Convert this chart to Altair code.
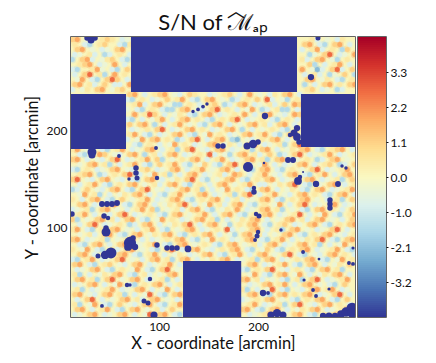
import altair as alt
import pandas as pd

# Estimated S/N of the speckles, per 5 px lattice cell, by unmasked region.
# Local detail is only an approximate reading of the picture.
LEVELS = {"w": -0.4, "b": -0.9, "B": -1.6, "D": -2.3, "p": 0.5, "o": 1.1, "O": 1.8, "R": 2.7}
BASE_V = 0.1

BLOCK_A = ["oO.wb.pop.bw", "p.bB.po..bBp", ".oO.w.bw.oO.", "bw.pb.Bb.p.b", "B.oOb.wpo.bB", ".poO.bw.O.b.", "bB..pOw.bB.o", "b.oR.pB.O.p.", ".wO.bB.oRo.b", "oO.pb.o.bb.O", "b.wp.oO.wpo."]
BLOCK_B = ["..pb.w.bp..", "oO.bB.oO.b.", "b.pOb.p.Bo.", ".Bw.oR.bw.O", "pb.oO.wB.p.", ".oB.b.pO.b.", "O.wDb.oRb.o", "b.pb.Bw.o.B", ".oO.wp.bB.p", "B.b.oO.p.oO", ".po.bw.Bb.."]
BLOCK_C = ["oO.b.poO.wb.op..bw.po.b.O.w.bp.oO.b", "bB.p.bw.o.pO.bB.oO.w.Bb.p.o.Rb.wB.p", ".pOb.oO.wBB.p.b.po.Bb.oO.bw.pb.o.Oo", "w.bB.p.bBB.oO.wb.oR.p.b.wO.Bb.pBB.b", ".O.pRo.b.wp.bB.oO.bw.p.O.b.oO.wb.Oo", "bB.b.wpO.b.oO.p.bB.p.oR.bw.p.bB.p.b", "o.oO.B.b.pO.w.bB.oO.b.w.oO.pb.oO.b.", ".bw.p.oR.bw.oO.p.bw.oO.B.b.w.p.bB.p", "pO.bB.bw.oO.bB.wO.p.bw.oO.pO.bB.oO.", "b.wO.oO.p.Bb.oR.b.oO.BD.wb.p.oO.b.w", ".bB.p.b.wO.p.bw.oO.wp.b.oO.bw.pB.oR"]
BLOCK_D = ["pO.wb.bB.pO.bw.oO.b.pB.oR.wb.oO.bw.pB.oO.b.wp.oO.bB.poO.b",
           ".bB.pOo.wb.oO.B.pb.oO.bw.p.Rb.wB.oO.pb.o.Bb.oR.bw.pO.bw.p",
           "oO.b.wb.oR.bw.pO.oB.w.p.oO.b.pO.bw.oO.pB.oO.bw.p.Bb.oO.w.",
           ".w.oO.pB.b.pO.bB.o.pO.bB.wo.bB.oR.pb.wO.b.bw.oO.b.po.Bb.o",
           "bB.p.bw.oO.wb.po.bw.oO.b.pO.w.oO.b.wB.oO.bB.p.w.oR.bw.pO.",
           ".poO.Bb.p.oR.b.wO.pB.b.oO.bw.pb.Oo.b.pO.wb.oO.bB.pO.b.oO.",
           "oR.wb.oO.wb.bB.oO.b.wp.oR.bB.w.oO.bB.p.oO.bw.p.oO.bw.pB.o",
           ".b.pO.bB.p.oO.w.pb.oO.bB.p.b.oO.w.pO.bb.wp.oR.bB.w.oO.b.p",
           "Bb.o.wb.oO.bB.oR.w.bw.oO.pB.b.wO.p.bB.oO.b.wp.bB.oO.bw.pO",
           ".wO.pB.b.wp.oO.b.bB.pO.w.oO.bw.pB.oR.b.pO.wb.oO.p.bB.oO.b",
           "p.b.oO.bB.o.w.pO.bw.oO.bB.p.oO.b.pb.w.oO.bB.p.oO.w.b.pB.o",
           ".oO.bw.pO.bB.oO.b.wp.oR.b.wO.pb.oO.bB.p.wO.b.oR.bw.pO.bw.",
           "bw.pB.oO.w.b.pO.oB.w.pb.oO.bB.wp.O.bw.oO.pB.w.bB.oO.p.b.o",
           ".pO.b.wb.oR.bw.p.bB.oO.w.pO.b.oO.bB.p.oO.bw.pR.b.wO.bB.pO",
           "oB.w.oO.pb.oO.bB.wO.p.bw.oO.pB.b.wp.oO.b.w.oO.pb.oO.w.b.o",
           ".b.oR.bw.p.Bb.oO.b.wp.oR.b.oO.wB.p.oO.bB.po.bw.oO.bB.p.oO",
           "pO.bB.p.oO.w.b.pO.bB.w.oO.bw.p.Rb.w.oO.b.pB.oO.w.bw.oR.b.",
           ".w.pb.oO.bB.oO.wp.oO.bB.p.oO.b.wB.oO.pb.w.oO.bB.p.oO.wb.p",
           "oO.bw.pB.w.pR.b.bw.p.oO.bB.wO.p.bw.oO.bB.pO.b.wp.oR.bB.oO",
           ".bB.oO.b.oO.bw.pO.bB.oO.w.p.bB.oO.w.pb.oO.bw.oO.pB.b.wO.p",
           "p.wO.bB.pb.oO.w.bB.oR.b.oO.wb.p.oO.bB.wo.bB.p.oO.bw.pO.bB",
           ".oO.b.wp.oO.bB.pO.b.wp.bw.oO.bB.pO.b.oO.w.oR.bB.wb.oO.p.b",
           "bB.pO.bw.oR.w.b.oO.pB.oO.b.wp.oO.bw.pB.oO.bw.p.oO.bB.wO.p"]
BLOCK_E = ["oO.bB.po.wb.oO.bw.pO.b", ".bw.oO.bB.p.wO.bB.oR.w", "pB.b.wp.oO.bB.pb.w.oO.", ".oO.pB.oR.w.oO.bw.pB.b", "bw.oO.b.wO.bB.p.oO.b.p", ".pB.bw.pO.bw.oO.b.wO.b", "oO.wb.oO.pB.b.wR.bB.oO", ".b.oR.b.w.oO.pb.oO.w.b", "pB.wO.bB.o.wb.oO.bB.pO", ".oO.b.pO.bB.oO.w.pb.o.", "bw.oO.bw.oO.b.wR.oO.bB"]
BLOCK_F = [".oO.bw.pO.bB.oO.b.wp.o", "bB.p.oR.wb.p.bB.oO.pB.", ".wO.bB.oO.wO.b.wp.oO.b", "oO.pb.w.bB.pB.oR.bw.pO", ".bw.oO.pO.b.oO.w.bB.o.", "pB.b.wR.bB.wb.oO.pO.bw", ".oO.bB.oO.p.oO.bw.oR.b", "bw.p.oO.w.bB.p.oO.bB.o", ".pO.bw.pB.oR.wb.oO.p.b", "oO.bB.oO.b.wp.oO.bw.pO", ".bw.pO.bw.oO.bB.p.oO.b"]
BLOCKS = [(BLOCK_A, 0, 0), (BLOCK_B, 0, 46), (BLOCK_C, 11, 11), (BLOCK_D, 22, 0), (BLOCK_E, 45, 0), (BLOCK_F, 45, 34)]

# Masked rectangles, data coordinates
MASK_X = [71.6, 11, 243.4, 124.2]
MASK_X2 = [239.4, 66.6, 298, 183]
MASK_Y = [295, 236.8, 236.8, 66.2]
MASK_Y2 = [238.8, 180.6, 182.6, 9]

# Small masked holes: x, y, marker area
HOLE_X = [134.3, 139.4, 144.4, 148.4, 159.6, 164.6, 188.9, 195, 200, 189.9, 253.5, 207, 42.3, 47.4, 52.4, 57.5, 76.7, 76.7, 77.7, 44.4, 48.4, 12, 59.5, 69.6, 97.9, 96.9, 108, 113.1, 118.1, 129.2, 195.9, 195.9, 198, 201, 199, 200, 197, 230.3, 235.4, 240.4, 242.4, 245.5, 258.6, 280.8, 272.7, 272.7, 272.7, 284.9, 288.9, 206, 46.4, 46.4, 70.6, 73.7, 68.6, 75.7, 51.4, 45.4, 38.3, 97.9, 67.6, 70.6, 84.8, 88.8, 42.3, 90.8, 94.9, 245.5, 223.2, 205, 210.1, 246.5, 255.6, 258.6, 271.7, 261.6, 291.9, 296, 296, 213.1, 219.2, 225.2, 265.7, 271.7, 277.8, 283.9, 288.9, 295, 295, 27.2, 31.2, 35.3, 260.6, 32.2, 32.2, 239.4, 236.4, 232.3, 239.4, 241.4]
HOLE_Y = [219, 221, 224, 226.6, 183.7, 183.7, 183.7, 185.7, 187.8, 162.2, 254.1, 214.3, 124.4, 124.4, 124.4, 125.4, 161.2, 156.1, 151, 112.2, 110.1, 114.2, 173.5, 150, 151, 181.6, 79.5, 79.5, 79.5, 78.5, 136.7, 140.8, 114.2, 112.2, 91.7, 95.8, 87.7, 169.4, 169.4, 148, 152, 157.1, 144.9, 144.9, 128.5, 124.4, 120.3, 163.2, 161.2, 166.3, 95.8, 99.9, 84.6, 89.7, 80.5, 80.5, 74.4, 72.4, 71.4, 82.6, 41.7, 41.7, 25.4, 23.3, 20.3, 47.8, 11, 75.4, 97.9, 33.5, 33.5, 46.8, 36.6, 30.5, 37.6, 68.2, 64.2, 63.2, 79.5, 11, 13, 11, 10, 10, 10, 12, 14, 18, 13, 294, 292, 294, 294, 177.5, 174.5, 202, 196.9, 194.9, 192.9, 187.8]
HOLE_S = [12, 14, 14, 12, 30, 30, 50, 70, 30, 100, 40, 40, 35, 35, 35, 35, 30, 30, 25, 30, 20, 30, 15, 12, 20, 15, 30, 30, 30, 45, 30, 20, 20, 25, 25, 20, 15, 35, 35, 60, 20, 4, 40, 35, 30, 30, 30, 12, 12, 6, 80, 30, 150, 30, 60, 40, 120, 70, 25, 30, 20, 12, 25, 25, 15, 20, 50, 15, 12, 40, 15, 10, 15, 15, 10, 8, 15, 15, 10, 50, 70, 50, 40, 50, 40, 60, 90, 120, 90, 30, 50, 30, 25, 80, 50, 40, 50, 20, 60, 30]

CB_TICKS = [-3.3, -2.2, -1.1, 0.0, 1.1, 2.2, 3.3]
CB_LABELS = ["-3.2", "-2.1", "-1.0", "0.0", "1.1", "2.2", "3.3"]
X_TICKS = [100, 200]
Y_TICKS = [100, 200]
X_DOM = [11, 298]
Y_DOM = [9, 295]
V_DOM = [-4.4, 4.4]
W, H = 284, 280
FONT = "Lato"
BLUE = "#313695"
INK = "#111111"

rows = []
dx = 5 * (X_DOM[1] - X_DOM[0]) / W
dy = 5 * (Y_DOM[1] - Y_DOM[0]) / H
for block, r0, c0 in BLOCKS:
    for i, row in enumerate(block):
        shift = 0.5 if (r0 + i) % 2 else 0.0
        for j, ch in enumerate(row):
            if ch in LEVELS:
                rows.append({"x": X_DOM[0] + (c0 + j + 0.25 + shift) * dx, "y": Y_DOM[1] - (r0 + i + 0.5) * dy, "v": LEVELS[ch]})
spots = pd.DataFrame(rows)
spots["rank"] = spots["v"].abs()
spots = spots.sort_values("rank")
masks = pd.DataFrame({"x": MASK_X, "x2": MASK_X2, "y": MASK_Y, "y2": MASK_Y2})
holes = pd.DataFrame({"x": HOLE_X, "y": HOLE_Y, "s": HOLE_S})
back = pd.DataFrame({"x": [X_DOM[0]], "x2": [X_DOM[1]], "y": [Y_DOM[0]], "y2": [Y_DOM[1]], "v": [BASE_V]})

color = alt.Color("v:Q", scale=alt.Scale(scheme="redyellowblue", reverse=True, domain=V_DOM), legend=None)
xs = alt.Scale(domain=X_DOM, nice=False, zero=False)
ys = alt.Scale(domain=Y_DOM, nice=False, zero=False)
common = dict(grid=False, domain=False, tickSize=0, labelFontSize=12, titleFontSize=16.5, labelFont=FONT, titleFont=FONT,
              labelColor=INK, titleColor=INK, titleFontWeight="normal", format="d")
xax = alt.Axis(values=X_TICKS, title="X - coordinate [arcmin]", labelPadding=4, titlePadding=3, **common)
yax = alt.Axis(values=Y_TICKS, title="Y - coordinate [arcmin]", labelPadding=4, titlePadding=6, **common)

base = alt.Chart(back).mark_rect(strokeWidth=0).encode(
    x=alt.X("x:Q", scale=xs, axis=xax), x2="x2:Q",
    y=alt.Y("y:Q", scale=ys, axis=yax), y2="y2:Q", color=color)
halo = alt.Chart(spots).mark_point(filled=True, shape="circle", size=62, opacity=0.35, strokeWidth=0, clip=True).encode(
    x=alt.X("x:Q", scale=xs), y=alt.Y("y:Q", scale=ys), color=color, order=alt.Order("rank:Q"))
core = alt.Chart(spots).mark_point(filled=True, shape="circle", size=25, opacity=1, strokeWidth=0, clip=True).encode(
    x=alt.X("x:Q", scale=xs), y=alt.Y("y:Q", scale=ys), color=color, order=alt.Order("rank:Q"))
mask = alt.Chart(masks).mark_rect(color=BLUE).encode(
    x=alt.X("x:Q", scale=xs), x2="x2:Q", y=alt.Y("y:Q", scale=ys), y2="y2:Q")
hole = alt.Chart(holes).mark_point(filled=True, shape="circle", color=BLUE, opacity=1, strokeWidth=0, clip=True).encode(
    x=alt.X("x:Q", scale=xs), y=alt.Y("y:Q", scale=ys),
    size=alt.Size("s:Q", scale=None, legend=None))
title_main = alt.Chart(back).mark_text(text="S/N of ℳₐₚ", font=FONT, fontSize=22, color=INK, align="center").encode(
    x=alt.value(142), y=alt.value(-14))
hat = alt.Chart(back).mark_text(text="︿", font="Noto Sans CJK SC", fontSize=18, color=INK, align="center").encode(
    x=alt.value(165), y=alt.value(-25))
main = alt.layer(base, halo, core, mask, hole, title_main, hat).properties(width=W, height=H)

n = 140
step = (V_DOM[1] - V_DOM[0]) / n
bar = pd.DataFrame({"v0": [V_DOM[0] + i * step for i in range(n)]})
bar["v1"] = bar["v0"] + step
bar["v"] = bar["v0"] + step / 2
bar["a"] = 0
bar["b"] = 1
label_map = "{" + ",".join(f"'{round(t * 10)}':'{l}'" for t, l in zip(CB_TICKS, CB_LABELS)) + "}"
cbar = alt.Chart(bar).mark_rect(strokeWidth=0).encode(
    x=alt.X("a:Q", scale=alt.Scale(domain=[0, 1]), axis=None), x2="b:Q",
    y=alt.Y("v0:Q", scale=alt.Scale(domain=V_DOM, nice=False, zero=False),
            axis=alt.Axis(orient="right", values=CB_TICKS, title=None, grid=False, domain=False, tickSize=2,
                          tickColor=INK, labelFontSize=12, labelFont=FONT, labelColor=INK, labelPadding=2,
                          labelExpr=f"{label_map}[''+round(datum.value*10)]")),
    y2="v1:Q", color=color).properties(width=28, height=H)

chart = alt.hconcat(main, cbar, spacing=1).configure_view(stroke="#333333", strokeWidth=1.5).properties(
    padding={"left": 15, "top": -6, "right": 0, "bottom": 0}).resolve_scale(color="shared")
chart.save("out.html", embed_options={"renderer": "svg", "actions": False})
